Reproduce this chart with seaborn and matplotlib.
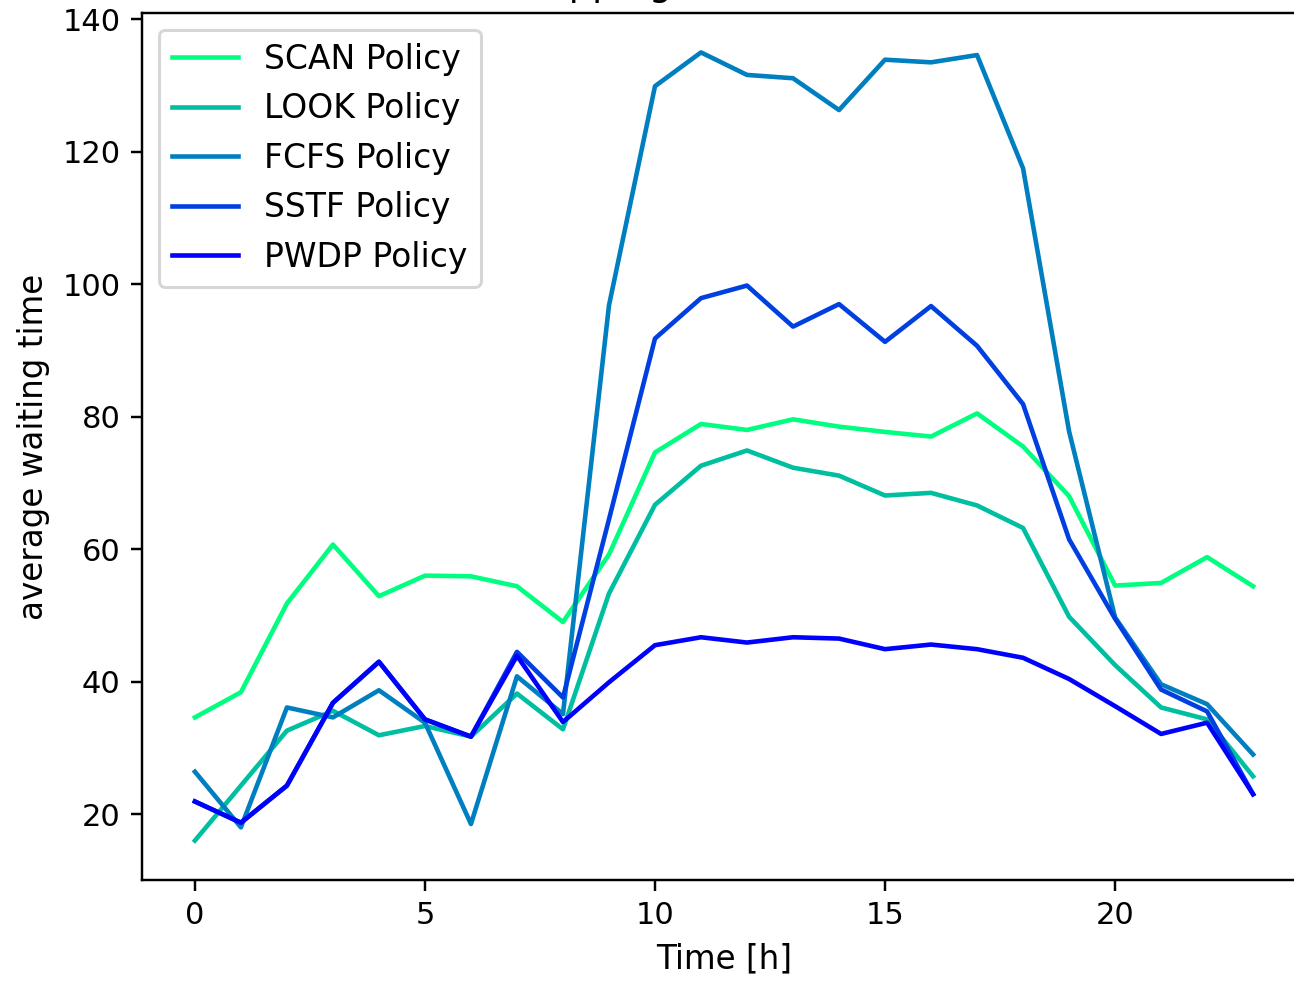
import numpy as np
import pandas as pd
import matplotlib
matplotlib.use("Agg")
import matplotlib.pyplot as plt
import seaborn as sns

hours = list(range(24))
policies = ["SCAN Policy", "LOOK Policy", "FCFS Policy", "SSTF Policy", "PWDP Policy"]

scan = [34.6, 38.4, 51.8, 60.7, 52.9, 56.0, 55.9, 54.4, 49.0, 59.2, 74.6, 78.9,
        78.0, 79.6, 78.5, 77.7, 77.0, 80.5, 75.5, 68.0, 54.5, 54.9, 58.8, 54.4]
look = [16.0, 24.3, 32.6, 35.6, 31.9, 33.3, 31.7, 38.2, 32.8, 53.3, 66.7, 72.6,
        74.9, 72.3, 71.1, 68.1, 68.5, 66.6, 63.2, 49.8, 42.5, 36.1, 34.3, 25.7]
fcfs = [26.4, 18.0, 36.1, 34.6, 38.7, 33.8, 18.5, 40.8, 35.1, 96.8, 129.9, 135.0,
        131.6, 131.1, 126.3, 133.9, 133.5, 134.6, 117.5, 77.8, 49.7, 39.6, 36.6, 29.0]
sstf = [21.9, 18.7, 24.3, 36.8, 43.0, 34.3, 31.7, 44.5, 37.6, 64.5, 91.8, 97.9,
        99.8, 93.6, 97.0, 91.3, 96.7, 90.7, 81.9, 61.5, 49.5, 38.8, 35.5, 23.0]
pwdp = [21.9, 18.7, 24.3, 36.8, 43.0, 34.3, 31.7, 43.9, 33.9, 39.9, 45.5, 46.7,
        45.9, 46.7, 46.5, 44.9, 45.6, 44.9, 43.6, 40.4, 36.3, 32.1, 33.8, 23.0]

series = [scan, look, fcfs, sstf, pwdp]
df = pd.DataFrame({
    "Time": np.tile(hours, len(policies)),
    "value": np.concatenate(series),
    "Policy": np.repeat(policies, len(hours)),
})

cmap = plt.get_cmap("winter_r")
palette = [cmap(i / 4) for i in range(5)]

W, H, DPI = 1294, 984, 220
fig = plt.figure(figsize=(W / DPI, H / DPI), dpi=DPI)
left, right, top, bottom = 142, 1306, 13, 880
ax = fig.add_axes([left / W, 1 - bottom / H, (right - left) / W, (bottom - top) / H])
sns.lineplot(data=df, x="Time", y="value", hue="Policy", palette=palette, ax=ax,
             linewidth=1.5)
ax.set_xlabel("Time [h]", fontsize=10.7)
ax.set_ylabel("average waiting time", fontsize=10.7)
ax.set_title("Shopping Mall Scenarios")
ax.legend(loc="upper left", title=None, fontsize=10.8)
fig.savefig("out.png", dpi=DPI)
